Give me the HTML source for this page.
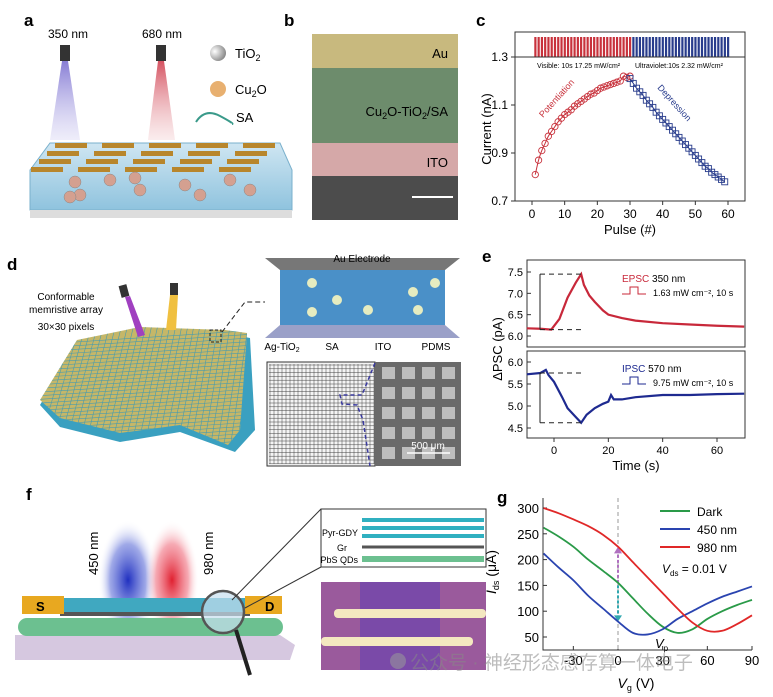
<!DOCTYPE html>
<html><head><meta charset="utf-8"><style>
html,body{margin:0;padding:0;background:#fff}
svg{display:block;font-family:"Liberation Sans","Noto Sans CJK SC",sans-serif}
</style></head><body>
<svg id="fig" width="773" height="697" viewBox="0 0 773 697">
<defs>
<linearGradient id="gBlueBeam" x1="0" y1="0" x2="0" y2="1"><stop offset="0" stop-color="#7a6fd0" stop-opacity=".9"/><stop offset="1" stop-color="#c8c4ee" stop-opacity=".3"/></linearGradient>
<linearGradient id="gRedBeam" x1="0" y1="0" x2="0" y2="1"><stop offset="0" stop-color="#d04050" stop-opacity=".9"/><stop offset="1" stop-color="#f0c0c4" stop-opacity=".3"/></linearGradient>
<linearGradient id="gGel" x1="0" y1="0" x2="0" y2="1"><stop offset="0" stop-color="#cfe6f2"/><stop offset="1" stop-color="#8fc3de"/></linearGradient>
<radialGradient id="gBlueF" cx=".5" cy=".5" r=".5"><stop offset="0" stop-color="#2030c0"/><stop offset=".6" stop-color="#6070d8" stop-opacity=".6"/><stop offset="1" stop-color="#fff" stop-opacity="0"/></radialGradient>
<radialGradient id="gRedF" cx=".5" cy=".5" r=".5"><stop offset="0" stop-color="#e02030"/><stop offset=".6" stop-color="#f07080" stop-opacity=".6"/><stop offset="1" stop-color="#fff" stop-opacity="0"/></radialGradient>
<radialGradient id="gTi" cx=".3" cy=".4" r=".7"><stop offset="0" stop-color="#fff"/><stop offset="1" stop-color="#888"/></radialGradient>
<clipPath id="sheetClip"><polygon points="77,340 140,327 225,330 247,333 240,430 228,445 180,425 120,433 60,418 40,400"/></clipPath>
</defs>

<!-- Panel a -->
<g>
<text x="24" y="26" font-size="17" font-weight="bold">a</text>
<text x="48" y="38" font-size="12">350 nm</text>
<text x="142" y="38" font-size="12">680 nm</text>
<rect x="60" y="45" width="10" height="16" fill="#333"/>
<rect x="156" y="45" width="10" height="16" fill="#333"/>
<polygon points="62,61 68,61 80,140 50,140" fill="url(#gBlueBeam)"/>
<polygon points="158,61 164,61 175,140 148,140" fill="url(#gRedBeam)"/>
<circle cx="218" cy="53" r="8" fill="url(#gTi)"/>
<text x="235" y="58" font-size="13">TiO<tspan font-size="9" dy="3">2</tspan></text>
<circle cx="218" cy="89" r="8" fill="#e8b070"/>
<text x="235" y="94" font-size="13">Cu<tspan font-size="9" dy="3">2</tspan><tspan dy="-3">O</tspan></text>
<path d="M196,122 Q205,108 220,116 T232,124" stroke="#3a9a8a" stroke-width="2" fill="none"/>
<text x="236" y="122" font-size="13">SA</text>
<polygon points="50,143 280,143 292,170 292,210 30,210 30,170" fill="url(#gGel)" stroke="#7ab0cc"/>
<rect x="30" y="210" width="262" height="8" fill="#ddd"/>
<g fill="#b8862c" id="elecA"></g>
<g fill="#d4a090" stroke="#888" stroke-width=".5" id="partsA"></g>
</g>

<!-- Panel b -->
<g>
<text x="284" y="26" font-size="17" font-weight="bold">b</text>
<rect x="312" y="34" width="146" height="34" fill="#c8b97e"/>
<rect x="312" y="68" width="146" height="75" fill="#6d8c6c"/>
<rect x="312" y="143" width="146" height="33" fill="#d5a8a8"/>
<rect x="312" y="176" width="146" height="44" fill="#4c4c4c"/>
<text x="448" y="58" font-size="13" text-anchor="end">Au</text>
<text x="448" y="116" font-size="13" text-anchor="end">Cu<tspan font-size="9" dy="3">2</tspan><tspan dy="-3">O-TiO</tspan><tspan font-size="9" dy="3">2</tspan><tspan dy="-3">/SA</tspan></text>
<text x="448" y="167" font-size="13" text-anchor="end">ITO</text>
<line x1="412" y1="197" x2="453" y2="197" stroke="#fff" stroke-width="2"/>
</g>

<!-- Panel c -->
<g id="panelC">
<text x="476" y="26" font-size="17" font-weight="bold">c</text>
</g>

<!-- Panel d -->
<g>
<text x="7" y="270" font-size="17" font-weight="bold">d</text>
<text x="66" y="300" font-size="10" text-anchor="middle">Conformable</text>
<text x="66" y="313" font-size="10" text-anchor="middle">memristive array</text>
<text x="66" y="330" font-size="10" text-anchor="middle">30×30 pixels</text>
<polygon points="77,343 140,330 225,333 250,338 255,430 235,452 180,432 120,442 60,427 40,405" fill="#3aa0c0"/>
<polygon points="77,340 140,327 225,330 247,333 240,430 228,445 180,425 120,433 60,418 40,400" fill="#c5b768"/>
<g id="gridD" stroke="#4a9cae" stroke-width=".6" clip-path="url(#sheetClip)"></g>
<rect x="120" y="285" width="8" height="12" fill="#333" transform="rotate(-15 124 291)"/>
<polygon points="125,297 130,296 145,335 138,337" fill="#a040c0"/>
<rect x="170" y="283" width="8" height="12" fill="#333"/>
<polygon points="170,295 178,295 176,330 166,330" fill="#f0c040"/>
<rect x="210" y="330" width="11" height="12" fill="none" stroke="#222" stroke-dasharray="3,2"/>
<path d="M222,332 L245,302 L265,302" stroke="#222" stroke-dasharray="5,3" fill="none"/>
<polygon points="265,258 460,258 445,270 280,270" fill="#777"/>
<text x="362" y="262" font-size="10" text-anchor="middle">Au Electrode</text>
<rect x="280" y="270" width="165" height="55" fill="#4a90c8"/>
<g fill="#e6ecc0" id="ballsD"></g>
<polygon points="280,325 445,325 460,338 265,338" fill="#9aa0c8"/>
<text x="282" y="350" font-size="10" text-anchor="middle">Ag-TiO<tspan font-size="7" dy="2">2</tspan></text>
<text x="332" y="350" font-size="10" text-anchor="middle">SA</text>
<text x="383" y="350" font-size="10" text-anchor="middle">ITO</text>
<text x="436" y="350" font-size="10" text-anchor="middle">PDMS</text>
<rect x="267" y="362" width="108" height="104" fill="#f4f4f4" stroke="#333"/>
<g id="semGrid" stroke="#444" stroke-width=".5"></g>
<rect x="375" y="362" width="86" height="104" fill="#6a6a6a"/>
<g id="semPads" fill="#bdbdbd"></g>
<text x="428" y="449" font-size="10" fill="#fff" text-anchor="middle">500 μm</text>
<line x1="407" y1="453" x2="450" y2="453" stroke="#fff" stroke-width="1.5"/>
<path d="M375,363 L362,395 L340,395 L342,404 L357,405 L363,420 L370,466" stroke="#3a3aa0" stroke-width="1.5" stroke-dasharray="4,3" fill="none"/>
</g>

<!-- Panel e -->
<g id="panelE">
<text x="482" y="262" font-size="17" font-weight="bold">e</text>
</g>

<!-- Panel f -->
<g>
<text x="26" y="500" font-size="17" font-weight="bold">f</text>
<ellipse cx="128" cy="580" rx="30" ry="60" fill="url(#gBlueF)"/>
<ellipse cx="172" cy="580" rx="27" ry="60" fill="url(#gRedF)"/>
<text transform="translate(98,575) rotate(-90)" font-size="13">450 nm</text>
<text transform="translate(213,575) rotate(-90)" font-size="13">980 nm</text>
<polygon points="15,635 280,635 295,645 290,660 15,660" fill="#d6c8e0"/>
<rect x="18" y="618" width="265" height="18" rx="9" fill="#6cc090"/>
<rect x="60" y="598" width="190" height="14" fill="#40a8c0"/>
<rect x="60" y="612" width="190" height="4" fill="#555"/>
<rect x="22" y="596" width="42" height="18" fill="#e8a820"/>
<text x="36" y="611" font-size="13" font-weight="bold">S</text>
<rect x="245" y="596" width="37" height="18" fill="#e8a820"/>
<text x="265" y="611" font-size="13" font-weight="bold">D</text>
<circle cx="223" cy="612" r="21" fill="#c8e0f0" fill-opacity=".7" stroke="#555" stroke-width="2.5"/>
<line x1="236" y1="630" x2="250" y2="675" stroke="#222" stroke-width="4"/>
<line x1="232" y1="600" x2="321" y2="509" stroke="#333"/>
<line x1="245" y1="608" x2="321" y2="567" stroke="#333"/>
<rect x="321" y="509" width="165" height="58" fill="#fff" stroke="#333"/>
<g id="layerRows"></g>
<text x="358" y="536" font-size="9" text-anchor="end">Pyr-GDY</text>
<text x="342" y="551" font-size="9" text-anchor="middle">Gr</text>
<text x="358" y="563" font-size="9" text-anchor="end">PbS QDs</text>
<rect x="321" y="582" width="165" height="88" fill="#9a5a9c"/>
<rect x="360" y="582" width="80" height="88" fill="#7a4aa8"/>
<rect x="334" y="609" width="152" height="9" rx="4" fill="#f4e8c0"/>
<rect x="321" y="637" width="152" height="9" rx="4" fill="#f4e8c0"/>
</g>

<!-- Panel g -->
<g id="panelG">
<text x="497" y="503" font-size="17" font-weight="bold">g</text>
</g>

<!-- watermark -->
<g opacity=".55">
<circle cx="398" cy="661" r="8" fill="#9a9a9a"/>
<text x="410" y="669" font-size="19" fill="#888">公众号 · 神经形态感存算一体电子</text>
</g>
</svg>

<script>
var NS='http://www.w3.org/2000/svg';
function mk(parent,tag,attrs,text){var e=document.createElementNS(NS,tag);for(var k in attrs)e.setAttribute(k,attrs[k]);if(text!==undefined)e.textContent=text;parent.appendChild(e);return e;}
function smooth(pts){var d='M'+pts[0][0]+','+pts[0][1];for(var i=0;i<pts.length-1;i++){var p0=pts[i-1]||pts[i],p1=pts[i],p2=pts[i+1],p3=pts[i+2]||p2;d+=' C'+(p1[0]+(p2[0]-p0[0])/6)+','+(p1[1]+(p2[1]-p0[1])/6)+' '+(p2[0]-(p3[0]-p1[0])/6)+','+(p2[1]-(p3[1]-p1[1])/6)+' '+p2[0]+','+p2[1];}return d;}

// ---- panel c data ----
var cPotPulse=[1,2,3,4,5,6,7,8,9,10,11,12,13,14,15,16,17,18,19,20,21,22,23,24,25,26,27,28,29,30];
var cPotVal=[0.81,0.87,0.91,0.94,0.97,0.99,1.01,1.03,1.045,1.06,1.07,1.08,1.095,1.105,1.115,1.125,1.135,1.145,1.15,1.16,1.17,1.175,1.18,1.185,1.19,1.195,1.2,1.22,1.215,1.22];
var cDepPulse=[30,31,32,33,34,35,36,37,38,39,40,41,42,43,44,45,46,47,48,49,50,51,52,53,54,55,56,57,58,59];
var cDepVal=[1.21,1.19,1.17,1.155,1.14,1.12,1.105,1.09,1.07,1.055,1.04,1.025,1.01,0.995,0.98,0.965,0.95,0.935,0.92,0.905,0.89,0.875,0.86,0.845,0.835,0.82,0.81,0.8,0.79,0.78];
var cXTicks=[0,10,20,30,40,50,60];
var cYTicks=[0.7,0.9,1.1,1.3];

// ---- panel e data ----
var eTimeE=[-10,-5,-1,2,5,8,10,11,13,15,18,20,25,30,40,50,60,70];
var eValE=[6.18,6.17,6.15,6.4,6.9,7.25,7.45,7.2,6.95,6.8,6.6,6.5,6.42,6.36,6.3,6.27,6.24,6.22];
var eTimeI=[-10,-5,-3,-2,0,3,5,8,10,12,15,18,20,21,22,25,30,40,50,60,70];
var eValI=[5.72,5.75,5.82,5.7,5.55,5.2,4.95,4.75,4.62,4.8,4.95,5.05,5.1,5.25,5.15,5.15,5.2,5.25,5.25,5.27,5.28];
var eXTicks=[0,20,40,60];
var eYTicksE=[6.0,6.5,7.0,7.5];
var eYTicksI=[4.5,5.0,5.5,6.0];

// ---- panel g data ----
var gVg=[-50,-40,-30,-20,-10,0,10,20,30,40,50,60,70,80,90];
var gDark=[262,245,225,200,178,155,125,95,70,58,65,85,100,112,122];
var g450=[212,185,160,130,105,80,58,55,65,85,100,115,128,138,148];
var g980=[300,290,278,265,248,225,195,165,135,105,78,62,62,75,92];
var gXTicks=[-30,0,30,60,90];
var gYTicks=[50,100,150,200,250,300];

// ===== panel a decorations =====
(function(){var g=document.getElementById('elecA');
for(var r=0;r<4;r++)for(var c=0;c<5;c++){var w=40,x=55+c*47-r*8,y=143+r*8;
var e=mk(g,'rect',{x:x,y:y,width:w-8,height:5});

}
var p=document.getElementById('partsA');var pts=[[75,182],[80,195],[110,180],[135,178],[140,190],[185,185],[200,195],[230,180],[250,190],[70,197]];
pts.forEach(function(q){var c=mk(p,'circle',{cx:q[0],cy:q[1],r:6});

});})();

// ===== panel d decorations =====
(function(){var g=document.getElementById('gridD');
for(var i=0;i<=30;i++){var t=i/30;
var l=mk(g,'line',{x1:30,y1:345+t*110,x2:260,y2:330+t*110});


var m=mk(g,'line',{x1:75+t*180,y1:320,x2:35+t*200,y2:460});

}
var b=document.getElementById('ballsD');[[312,283],[337,300],[312,312],[368,310],[413,292],[435,283],[418,310]].forEach(function(q){var c=mk(b,'circle',{cx:q[0],cy:q[1],r:5});

});
var s=document.getElementById('semGrid');for(var k=0;k<27;k++){var a=mk(s,'line',{x1:270+k*4,y1:364,x2:270+k*4,y2:464});


var h=mk(s,'line',{x1:269,y1:365+k*3.8,x2:374,y2:365+k*3.8});

}
var sp=document.getElementById('semPads');for(var r=0;r<5;r++)for(var c=0;c<4;c++){var pd=mk(sp,'rect',{x:382+c*20,y:367+r*20,width:13,height:12});

}})();

// ===== panel f layer rows =====
(function(){var g=document.getElementById('layerRows');var rows=[[520,'#30b0c0',4],[528,'#30b0c0',4],[536,'#30b0c0',4],[547,'#555',3],[559,'#6cc090',6]];
rows.forEach(function(r){var e=mk(g,'rect',{x:362,y:r[0]-r[2]/2,width:122,height:r[2],fill:r[1]});

});})();

// ===== panel c chart =====
(function(){var g=document.getElementById('panelC');
var X=function(v){return 532+(v-0)*(728-532)/60;};var Y=function(v){return 201-(v-0.7)*(201-57)/0.6;};
var top=mk(g,'rect',{x:515,y:32,width:230,height:25,fill:'#fff',stroke:'#333'});


for(var i=0;i<60;i++){var bx=X(i+0.7);var b=mk(g,'rect',{x:bx,y:37,width:2.2,height:20,fill:i<30?'#c8323c':'#283c8c'});

}
var fr=mk(g,'rect',{x:515,y:57,width:230,height:144,fill:'none',stroke:'#333'});


var t1=mk(g,'text',{x:537,y:68,'font-size':7},'Visible: 10s 17.25 mW/cm²');


var t2=mk(g,'text',{x:635,y:68,'font-size':7},'Ultraviolet:10s 2.32 mW/cm²');


cXTicks.forEach(function(v){var l=mk(g,'line',{x1:X(v),y1:201,x2:X(v),y2:205,stroke:'#333'});


var t=mk(g,'text',{x:X(v),y:218,'font-size':12,'text-anchor':'middle'},String(v));

});
cYTicks.forEach(function(v){var l=mk(g,'line',{x1:511,y1:Y(v),x2:515,y2:Y(v),stroke:'#333'});


var t=mk(g,'text',{x:508,y:Y(v)+4,'font-size':12,'text-anchor':'end'},v.toFixed(1));

});
var xt=mk(g,'text',{x:630,y:234,'font-size':13,'text-anchor':'middle'},'Pulse (#)');


var yt=mk(g,'text',{transform:'translate(491,129) rotate(-90)','font-size':13,'text-anchor':'middle'},'Current (nA)');


var pl=mk(g,'path',{d:smooth(cPotPulse.map(function(p,i){return[X(p),Y(cPotVal[i])];})),fill:'none',stroke:'#c8323c','stroke-width':1});


cPotPulse.forEach(function(p,i){var c=mk(g,'circle',{cx:X(p),cy:Y(cPotVal[i]),r:3.2,fill:'none',stroke:'#c8323c','stroke-width':0.9});

});
var dl=mk(g,'path',{d:smooth(cDepPulse.map(function(p,i){return[X(p),Y(cDepVal[i])];})),fill:'none',stroke:'#283c8c','stroke-width':1});


cDepPulse.forEach(function(p,i){var s=mk(g,'rect',{x:X(p)-3,y:Y(cDepVal[i])-3,width:6,height:6,fill:'none',stroke:'#283c8c','stroke-width':0.9});

});
var pt=mk(g,'text',{transform:'translate(543,118) rotate(-48)','font-size':9,fill:'#c8323c'},'Potentiation');


var dt=mk(g,'text',{transform:'translate(657,88) rotate(48)','font-size':9,fill:'#283c8c'},'Depression');

})();

// ===== panel e chart =====
(function(){var g=document.getElementById('panelE');
var X=function(v){return 554+v*(717-554)/60;};
var YE=function(v){return 336-(v-6.0)*(336-272)/1.5;};
var YI=function(v){return 362+(6.0-v)*(428-362)/1.5;};
[[260,347,'epsc'],[351,438,'ipsc']].forEach(function(b){var r=mk(g,'rect',{x:527,y:b[0],width:218,height:b[1]-b[0],fill:'none',stroke:'#333'});

});
eXTicks.forEach(function(v){var l=mk(g,'line',{x1:X(v),y1:438,x2:X(v),y2:442,stroke:'#333'});


var t=mk(g,'text',{x:X(v),y:454,'font-size':11,'text-anchor':'middle'},String(v));

});
eYTicksE.forEach(function(v){var t=mk(g,'text',{x:523,y:YE(v)+4,'font-size':11,'text-anchor':'end'},v.toFixed(1));


var l=mk(g,'line',{x1:527,y1:YE(v),x2:531,y2:YE(v),stroke:'#333'});

});
eYTicksI.forEach(function(v){var t=mk(g,'text',{x:523,y:YI(v)+4,'font-size':11,'text-anchor':'end'},v.toFixed(1));


var l=mk(g,'line',{x1:527,y1:YI(v),x2:531,y2:YI(v),stroke:'#333'});

});
var xt=mk(g,'text',{x:636,y:470,'font-size':13,'text-anchor':'middle'},'Time (s)');


var yt=mk(g,'text',{transform:'translate(502,349) rotate(-90)','font-size':13,'text-anchor':'middle'},'ΔPSC (pA)');


var pe=mk(g,'path',{d:'M'+eTimeE.map(function(t,i){return X(t)+','+YE(eValE[i]);}).join(' L'),fill:'none',stroke:'#c8283a','stroke-width':2.2});


var pi=mk(g,'path',{d:'M'+eTimeI.map(function(t,i){return X(t)+','+YI(eValI[i]);}).join(' L'),fill:'none',stroke:'#1e2a90','stroke-width':2.2});


var emax=Math.max.apply(null,eValE),emin=eValE[2],imax=eValI[1],imin=Math.min.apply(null,eValI);
[[YE(emax),'epsc-max-guide'],[YE(emin),'epsc-min-guide'],[YI(imax),'ipsc-max-guide'],[YI(imin),'ipsc-min-guide']].forEach(function(q){var l=mk(g,'line',{x1:540,y1:q[0],x2:X(10),y2:q[0],stroke:'#222','stroke-dasharray':'5,4'});

});
var a1=mk(g,'line',{x1:540,y1:YE(emax),x2:540,y2:YE(emin),stroke:'#222'});


var a2=mk(g,'line',{x1:540,y1:YI(imax),x2:540,y2:YI(imin),stroke:'#222'});


var le=mk(g,'text',{x:622,y:282,'font-size':10},'');le.innerHTML='<tspan fill="#c8283a">EPSC</tspan> 350 nm';


var le2=mk(g,'text',{x:653,y:296,'font-size':9},'1.63 mW cm⁻², 10 s');


var s1=mk(g,'path',{d:'M622,294 h8 v-7 h8 v7 h8',stroke:'#c8283a',fill:'none'});


var li=mk(g,'text',{x:622,y:372,'font-size':10},'');li.innerHTML='<tspan fill="#1e2a90">IPSC</tspan>  570 nm';


var li2=mk(g,'text',{x:653,y:386,'font-size':9},'9.75 mW cm⁻², 10 s');


var s2=mk(g,'path',{d:'M622,384 h8 v-7 h8 v7 h8',stroke:'#1e2a90',fill:'none'});

})();

// ===== panel g chart =====
(function(){var g=document.getElementById('panelG');
var X=function(v){return 618+v*(752-618)/90;};
var Y=function(v){return 637-(v-50)*(637-508)/250;};
var fr=mk(g,'path',{d:'M543,498 V650 H752',fill:'none',stroke:'#333'});


gXTicks.forEach(function(v){var l=mk(g,'line',{x1:X(v),y1:650,x2:X(v),y2:646,stroke:'#333'});


var t=mk(g,'text',{x:X(v),y:665,'font-size':13,'text-anchor':'middle'},String(v));

});
gYTicks.forEach(function(v){var l=mk(g,'line',{x1:543,y1:Y(v),x2:547,y2:Y(v),stroke:'#333'});


var t=mk(g,'text',{x:539,y:Y(v)+5,'font-size':13,'text-anchor':'end'},String(v));

});
var xt=mk(g,'text',{x:636,y:688,'font-size':14,'text-anchor':'middle','font-style':'italic'},'');xt.innerHTML='V<tspan font-size="9" dy="3" font-style="normal">g</tspan><tspan dy="-3" font-style="normal"> (V)</tspan>';


var yt=mk(g,'text',{transform:'translate(496,572) rotate(-90)','font-size':14,'text-anchor':'middle'},'');yt.innerHTML='<tspan font-style="italic">I</tspan><tspan font-size="9" dy="3">ds</tspan><tspan dy="-3"> (μA)</tspan>';


var vl=mk(g,'line',{x1:X(0),y1:498,x2:X(0),y2:650,stroke:'#999','stroke-dasharray':'4,3'});


var ar1=mk(g,'line',{x1:X(0),y1:Y(155),x2:X(0),y2:Y(215),stroke:'#b070c0','stroke-width':2,'stroke-dasharray':'3,2'});


var ah1=mk(g,'polygon',{points:(X(0)-4)+','+Y(212)+' '+(X(0)+4)+','+Y(212)+' '+X(0)+','+Y(225),fill:'#b070c0'});


var ar2=mk(g,'line',{x1:X(0),y1:Y(150),x2:X(0),y2:Y(90),stroke:'#30a8b0','stroke-width':2,'stroke-dasharray':'3,2'});


var ah2=mk(g,'polygon',{points:(X(0)-4)+','+Y(92)+' '+(X(0)+4)+','+Y(92)+' '+X(0)+','+Y(80),fill:'#30a8b0'});


[[gDark,'#2a9a48','dark-curve'],[g450,'#2a44b0','curve-450nm'],[g980,'#e02828','curve-980nm']].forEach(function(s){var p=mk(g,'path',{d:smooth(gVg.map(function(v,i){return[X(v),Y(s[0][i])];})),fill:'none',stroke:s[1],'stroke-width':1.8});

});
[['Dark','#2a9a48',511],['450 nm','#2a44b0',529],['980 nm','#e02828',547]].forEach(function(L){var l=mk(g,'line',{x1:660,y1:L[2],x2:690,y2:L[2],stroke:L[1],'stroke-width':2});


var t=mk(g,'text',{x:697,y:L[2]+5,'font-size':12},L[0]);

});
var vd=mk(g,'text',{x:662,y:573,'font-size':12},'');vd.innerHTML='<tspan font-style="italic">V</tspan><tspan font-size="8" dy="3">ds</tspan><tspan dy="-3"> = 0.01 V</tspan>';


var vp=mk(g,'text',{x:655,y:648,'font-size':13,'font-style':'italic'},'');vp.innerHTML='V<tspan font-size="8" dy="3" font-style="normal">p</tspan>';

})();
</script>
</body></html>
